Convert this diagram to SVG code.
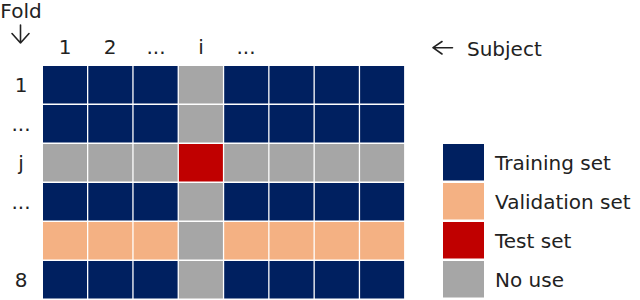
<svg xmlns="http://www.w3.org/2000/svg" width="640" height="300" viewBox="0 0 640 300">
<style>
text{font-family:"DejaVu Sans","Liberation Sans",sans-serif;font-size:20px;fill:#222}
.arrow{fill:none;stroke:#222;stroke-width:1.6;stroke-linecap:round;stroke-linejoin:round}
.n{fill:#002060}.v{fill:#F4B183}.r{fill:#C00000}.g{fill:#A6A6A6}
.c{text-anchor:middle}
</style>
<rect width="640" height="300" fill="#fff"/>
<g id="header">
<text x="21" y="18" class="c">Fold</text>
<text x="65" y="54" class="c">1</text>
<text x="110" y="54" class="c">2</text>
<text x="156" y="54" class="c">...</text>
<text x="201" y="54" class="c">i</text>
<text x="246" y="54" class="c">...</text>
<text x="467" y="56">Subject</text>
</g>
<g id="arrows">
<path class="arrow" d="M20.5 25V43M12 33.5L20.5 43L29 33.5"/>
<path class="arrow" d="M452.5 47.7H433M442 41.5L433 47.7L442 54"/>
</g>
<g id="rowlabels">
<text x="21" y="92" class="c">1</text>
<text x="21" y="131" class="c">...</text>
<text x="21" y="170" class="c">j</text>
<text x="21" y="209" class="c">...</text>
<text x="21" y="287" class="c">8</text>
</g>
<g id="grid">
<g id="row1">
<rect class="n" x="43" y="66" width="44" height="37.5"/><rect class="n" x="88.3" y="66" width="44" height="37.5"/><rect class="n" x="133.6" y="66" width="44" height="37.5"/><rect class="g" x="178.9" y="66" width="44" height="37.5"/><rect class="n" x="224.2" y="66" width="44" height="37.5"/><rect class="n" x="269.5" y="66" width="44" height="37.5"/><rect class="n" x="314.8" y="66" width="44" height="37.5"/><rect class="n" x="360.1" y="66" width="44" height="37.5"/>
</g>
<g id="row2">
<rect class="n" x="43" y="105" width="44" height="37.5"/><rect class="n" x="88.3" y="105" width="44" height="37.5"/><rect class="n" x="133.6" y="105" width="44" height="37.5"/><rect class="g" x="178.9" y="105" width="44" height="37.5"/><rect class="n" x="224.2" y="105" width="44" height="37.5"/><rect class="n" x="269.5" y="105" width="44" height="37.5"/><rect class="n" x="314.8" y="105" width="44" height="37.5"/><rect class="n" x="360.1" y="105" width="44" height="37.5"/>
</g>
<g id="rowj">
<rect class="g" x="43" y="144" width="44" height="37.5"/><rect class="g" x="88.3" y="144" width="44" height="37.5"/><rect class="g" x="133.6" y="144" width="44" height="37.5"/><rect class="r" x="178.9" y="144" width="44" height="37.5"/><rect class="g" x="224.2" y="144" width="44" height="37.5"/><rect class="g" x="269.5" y="144" width="44" height="37.5"/><rect class="g" x="314.8" y="144" width="44" height="37.5"/><rect class="g" x="360.1" y="144" width="44" height="37.5"/>
</g>
<g id="row4">
<rect class="n" x="43" y="183" width="44" height="37.5"/><rect class="n" x="88.3" y="183" width="44" height="37.5"/><rect class="n" x="133.6" y="183" width="44" height="37.5"/><rect class="g" x="178.9" y="183" width="44" height="37.5"/><rect class="n" x="224.2" y="183" width="44" height="37.5"/><rect class="n" x="269.5" y="183" width="44" height="37.5"/><rect class="n" x="314.8" y="183" width="44" height="37.5"/><rect class="n" x="360.1" y="183" width="44" height="37.5"/>
</g>
<g id="row5">
<rect class="v" x="43" y="222" width="44" height="37.5"/><rect class="v" x="88.3" y="222" width="44" height="37.5"/><rect class="v" x="133.6" y="222" width="44" height="37.5"/><rect class="g" x="178.9" y="222" width="44" height="37.5"/><rect class="v" x="224.2" y="222" width="44" height="37.5"/><rect class="v" x="269.5" y="222" width="44" height="37.5"/><rect class="v" x="314.8" y="222" width="44" height="37.5"/><rect class="v" x="360.1" y="222" width="44" height="37.5"/>
</g>
<g id="row8">
<rect class="n" x="43" y="261" width="44" height="37.5"/><rect class="n" x="88.3" y="261" width="44" height="37.5"/><rect class="n" x="133.6" y="261" width="44" height="37.5"/><rect class="g" x="178.9" y="261" width="44" height="37.5"/><rect class="n" x="224.2" y="261" width="44" height="37.5"/><rect class="n" x="269.5" y="261" width="44" height="37.5"/><rect class="n" x="314.8" y="261" width="44" height="37.5"/><rect class="n" x="360.1" y="261" width="44" height="37.5"/>
</g>
</g>
<g id="legend">
<g id="leg-train"><rect class="n" x="443" y="144" width="41" height="36.5"/><text x="495" y="170">Training set</text></g>
<g id="leg-val"><rect class="v" x="443" y="183" width="41" height="36.5"/><text x="495" y="209">Validation set</text></g>
<g id="leg-test"><rect class="r" x="443" y="222" width="41" height="36.5"/><text x="495" y="248">Test set</text></g>
<g id="leg-none"><rect class="g" x="443" y="261" width="41" height="36.5"/><text x="495" y="287">No use</text></g>
</g>
</svg>
